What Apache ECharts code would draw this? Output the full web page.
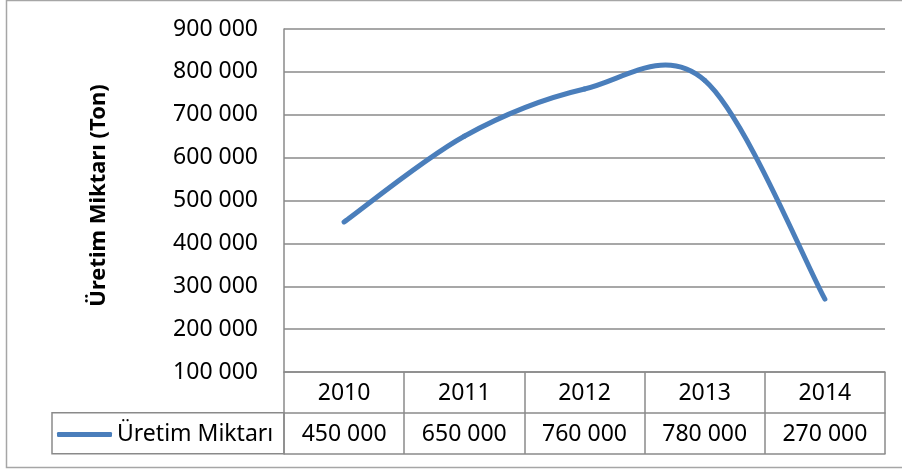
<!DOCTYPE html>
<html>
<head>
<meta charset="utf-8">
<script src="https://cdn.jsdelivr.net/npm/echarts@6/dist/echarts.min.js"></script>
<style>html,body{margin:0;padding:0;background:#fff}#c{width:902px;height:470px}</style>
</head>
<body>
<div id="c"></div>
<script>
var categories = ['2010', '2011', '2012', '2013', '2014'];
var seriesName = 'Üretim Miktarı';
var values = [450000, 650000, 760000, 780000, 270000];
var yTicks = { min: 100000, max: 900000, interval: 100000 };
var yTitle = 'Üretim Miktarı (Ton)';

function fmt(v) { return String(v).replace(/\B(?=(\d{3})+(?!\d))/g, ' '); }

var FONT = 'Noto Sans';
var GRID_C = '#8A8A8A';
var LINE_C = '#4A7EBB';
var TENSION = 1 / 6;

function renderSegment(params, api) {
  var i = params.dataIndex;
  var n = values.length;
  if (i >= n - 1) return null;
  function P(k) {
    k = Math.max(0, Math.min(n - 1, k));
    return api.coord([k, values[k]]);
  }
  var p0 = P(i - 1), p1 = P(i), p2 = P(i + 1), p3 = P(i + 2);
  return {
    type: 'bezierCurve',
    shape: {
      x1: p1[0], y1: p1[1], x2: p2[0], y2: p2[1],
      cpx1: p1[0] + (p2[0] - p0[0]) * TENSION, cpy1: p1[1] + (p2[1] - p0[1]) * TENSION,
      cpx2: p2[0] - (p3[0] - p1[0]) * TENSION, cpy2: p2[1] - (p3[1] - p1[1]) * TENSION
    },
    style: { stroke: LINE_C, lineWidth: 5, fill: null, lineCap: 'round', lineJoin: 'round' }
  };
}

var chart = echarts.init(document.getElementById('c'), null, { renderer: 'canvas' });
chart.setOption({
  animation: false,
  backgroundColor: '#fff',
  textStyle: { fontFamily: FONT },
  grid: { left: 284, right: 17, top: 29, bottom: 98, containLabel: false },
  legend: {
    left: 57, top: 423, padding: 0,
    itemWidth: 55, itemHeight: 5, itemGap: 0,
    data: [{ name: seriesName, icon: 'roundRect' }],
    textStyle: { fontSize: 23, color: '#000', fontFamily: FONT }
  },
  xAxis: [
    {
      type: 'category', data: categories, boundaryGap: true, position: 'bottom',
      axisLine: { show: true, lineStyle: { color: GRID_C, width: 1.5 } },
      axisTick: { show: true, length: 82, inside: false, lineStyle: { color: GRID_C, width: 1.5 } },
      axisLabel: { fontSize: 23, color: '#000', margin: 10, fontFamily: FONT },
      splitLine: { show: false }
    },
    {
      type: 'category', data: categories, boundaryGap: true, position: 'bottom', offset: 41,
      axisLine: { show: true, lineStyle: { color: GRID_C, width: 1.5 } },
      axisTick: { show: false },
      axisLabel: { fontSize: 23, color: '#000', margin: 10, fontFamily: FONT,
        formatter: function (v, i) { return fmt(values[i]); } },
      splitLine: { show: false }
    },
    {
      type: 'category', data: categories, boundaryGap: true, position: 'bottom', offset: 82,
      axisLine: { show: true, lineStyle: { color: GRID_C, width: 1.5 } },
      axisTick: { show: false },
      axisLabel: { show: false },
      splitLine: { show: false }
    }
  ],
  yAxis: {
    type: 'value', min: yTicks.min, max: yTicks.max, interval: yTicks.interval,
    name: yTitle, nameLocation: 'middle', nameGap: 174, nameRotate: 90,
    nameTextStyle: { fontSize: 22, fontWeight: 'bold', color: '#000', fontFamily: FONT, padding: [0, 0, 0, 10] },
    axisLine: { show: true, lineStyle: { color: GRID_C, width: 1.5 } },
    axisTick: { show: false },
    axisLabel: { fontSize: 23, color: '#000', margin: 26, fontFamily: FONT, formatter: fmt },
    splitLine: { show: true, lineStyle: { color: GRID_C, width: 1.5 } }
  },
  series: [{
    name: seriesName, type: 'custom', xAxisIndex: 0, yAxisIndex: 0,
    coordinateSystem: 'cartesian2d',
    data: values.map(function (v, i) { return [i, v]; }),
    encode: { x: 0, y: 1 },
    renderItem: renderSegment,
    itemStyle: { color: LINE_C }
  }],
  graphic: [
    { type: 'rect', silent: true, shape: { x: 6.5, y: 0.5, width: 902, height: 467 },
      style: { fill: 'none', stroke: '#A6A6A6', lineWidth: 1.5 }, z: -1 },
    { type: 'rect', silent: true, shape: { x: 52, y: 412.75, width: 232, height: 41 },
      style: { fill: 'none', stroke: GRID_C, lineWidth: 1.5 }, z: 1 }
  ]
});
</script>
</body>
</html>
